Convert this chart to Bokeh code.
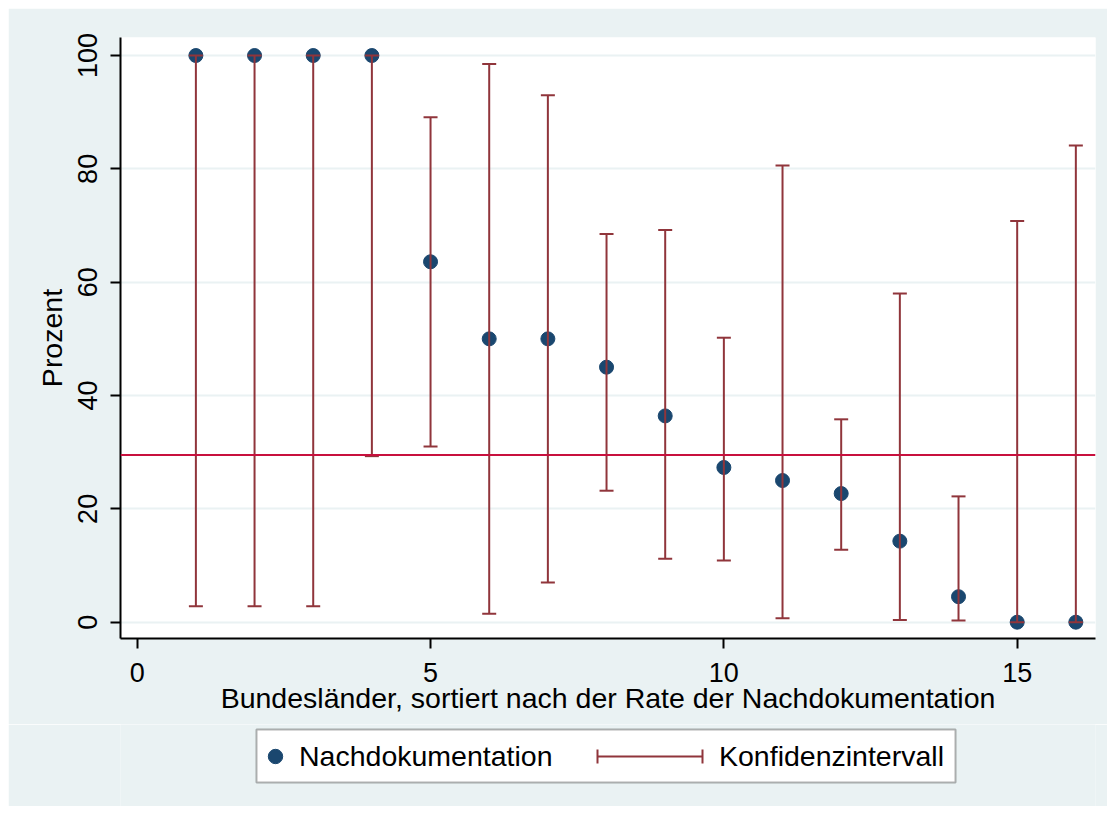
from bokeh.plotting import figure
from bokeh.layouts import column
from bokeh.models import Range1d, Span, Legend, LegendItem, BoxAnnotation, Arrow, TeeHead, ColumnDataSource
from bokeh.embed import file_html
from bokeh.resources import INLINE

# ---- data ----
land = list(range(1, 17))
rate = [100, 100, 100, 100, 63.6, 50, 50, 45, 36.4, 27.3, 25, 22.7, 14.3, 4.5, 0, 0]
ci_lower = [2.8, 2.8, 2.8, 29.3, 31.0, 1.5, 7.0, 23.2, 11.2, 10.9, 0.7, 12.8, 0.4, 0.3, 0, 0]
ci_upper = [100, 100, 100, 100, 89.1, 98.5, 93.0, 68.5, 69.2, 50.2, 80.6, 35.8, 58.0, 22.2, 70.8, 84.1]
overall_rate = 29.5
x_ticks = [0, 5, 10, 15]
y_ticks = [0, 20, 40, 60, 80, 100]

NAVY = "#1a476f"
MAROON = "#90353b"
HLINE = "#c8103e"
BG = "#eaf2f3"
FONT = "Liberation Sans"
FS_TICK = "27px"
FS_TEXT = "28.5px"

src = ColumnDataSource(dict(x=land, rate=rate, lo=ci_lower, hi=ci_upper))

p = figure(width=1099, height=716,
           x_range=Range1d(-0.285, 16.335), y_range=Range1d(-2.88, 103.18),
           output_backend="svg", toolbar_location=None,
           min_border_left=112, min_border_right=12,
           min_border_top=29, min_border_bottom=86)

p.background_fill_color = "white"
p.border_fill_color = BG
p.outline_line_color = None

p.xgrid.visible = False
p.ygrid.grid_line_color = BG
p.ygrid.grid_line_width = 2
p.ygrid.ticker = y_ticks

p.scatter("x", "rate", source=src, size=14, color=NAVY)
p.segment("x", "lo", "x", "hi", source=src, line_color=MAROON, line_width=2)
p.scatter("x", "lo", source=src, marker="dash", size=14, line_color=MAROON, line_width=2)
p.scatter("x", "hi", source=src, marker="dash", size=14, line_color=MAROON, line_width=2)

p.add_layout(Span(location=overall_rate, dimension="width", line_color=HLINE, line_width=2))

for ax in (p.xaxis, p.yaxis):
    ax.axis_line_color = "black"
    ax.axis_line_width = 2
    ax.major_tick_line_color = "black"
    ax.major_tick_line_width = 2
    ax.major_tick_out = 10
    ax.major_tick_in = 0
    ax.minor_tick_out = 0
    ax.minor_tick_in = 0
    ax.major_label_text_font = FONT
    ax.major_label_text_font_size = FS_TICK
    ax.major_label_text_color = "black"
    ax.axis_label_text_font = FONT
    ax.axis_label_text_font_size = FS_TEXT
    ax.axis_label_text_font_style = "normal"
    ax.axis_label_text_color = "black"

p.xaxis.ticker = x_ticks
p.yaxis.ticker = y_ticks
p.xaxis.axis_label = "Bundesländer, sortiert nach der Rate der Nachdokumentation"
p.yaxis.axis_label = "Prozent"
p.yaxis.major_label_orientation = "parallel"
p.xaxis.major_label_standoff = 14
p.xaxis.axis_label_standoff = -3
p.yaxis.major_label_standoff = 13
p.yaxis.axis_label_standoff = 8

# ---- legend strip (pixel coordinates of the strip) ----
p2 = figure(width=1099, height=82, x_range=Range1d(112, 1087), y_range=Range1d(82, 0),
            output_backend="svg", toolbar_location=None,
            min_border_left=112, min_border_right=12, min_border_top=0, min_border_bottom=0)
p2.axis.visible = False
p2.grid.visible = False
p2.background_fill_color = BG
p2.border_fill_color = BG
p2.outline_line_color = None

p2.add_layout(BoxAnnotation(left=248, right=947, top=5, bottom=58,
                            fill_color="white", fill_alpha=1,
                            line_color="black", line_width=2, level="underlay"))

# key renderers share the chart's data (they fall outside this strip's ranges)
pts_key = p2.scatter("x", "rate", source=src, size=14, color=NAVY)
seg_key = p2.segment("x", "lo", "x", "hi", source=src, line_color=MAROON, line_width=2)

legA = Legend(items=[LegendItem(label="Nachdokumentation", renderers=[pts_key])],
              location=(137, 32), glyph_width=36, glyph_height=36,
              label_standoff=6, padding=0, margin=0,
              border_line_color=None, background_fill_alpha=0,
              label_text_font=FONT, label_text_font_size=FS_TEXT, label_text_color="black")
legB = Legend(items=[LegendItem(label="Konfidenzintervall", renderers=[seg_key])],
              location=(477, 32), glyph_width=105, glyph_height=36,
              label_standoff=17, padding=0, margin=0,
              border_line_color=None, background_fill_alpha=0,
              label_text_font=FONT, label_text_font_size=FS_TEXT, label_text_color="black")
p2.add_layout(legA)
p2.add_layout(legB)

p2.add_layout(Arrow(x_start=589, y_start=32, x_end=694, y_end=32, line_alpha=0,
                    start=TeeHead(size=14, line_color=MAROON, line_width=2),
                    end=TeeHead(size=14, line_color=MAROON, line_width=2)))

layout = column(p, p2, spacing=0, margin=(8, 0, 0, 8))
open("out.html", "w").write(file_html(layout, INLINE))
